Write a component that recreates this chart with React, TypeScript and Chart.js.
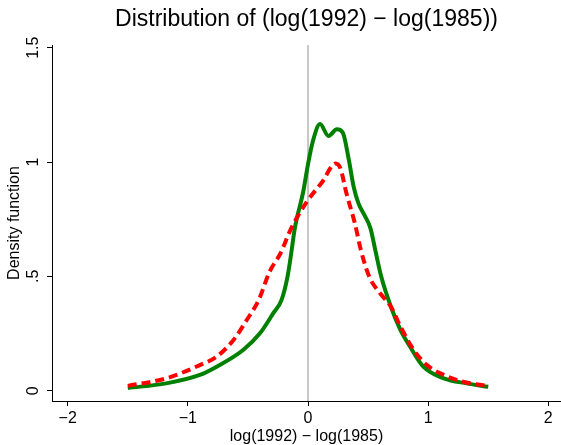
import React, { useEffect, useRef } from 'react';
import { Chart, registerables } from 'chart.js';

Chart.register(...registerables);

// Green solid density curve
const greenX = [-1.5, -1.18, -0.9, -0.76, -0.54, -0.4, -0.29, -0.22, -0.17, -0.14, -0.11, -0.04, 0.0, 0.04, 0.1, 0.17, 0.24, 0.29, 0.34, 0.38, 0.42, 0.47, 0.52, 0.56, 0.61, 0.69, 0.77, 0.85, 0.96, 1.13, 1.32, 1.5];
const greenY = [0.012, 0.032, 0.069, 0.105, 0.178, 0.251, 0.338, 0.397, 0.5, 0.6, 0.71, 0.87, 0.99, 1.09, 1.166, 1.114, 1.143, 1.128, 1.009, 0.892, 0.819, 0.768, 0.71, 0.615, 0.498, 0.367, 0.265, 0.192, 0.105, 0.054, 0.032, 0.017];

// Red dashed density curve
const redX = [-1.5, -1.18, -0.9, -0.76, -0.62, -0.51, -0.41, -0.32, -0.23, -0.14, -0.01, 0.12, 0.23, 0.27, 0.32, 0.39, 0.44, 0.51, 0.6, 0.69, 0.77, 0.88, 0.99, 1.13, 1.29, 1.5];
const redY = [0.021, 0.054, 0.112, 0.149, 0.222, 0.309, 0.397, 0.52, 0.6, 0.71, 0.826, 0.914, 0.994, 0.972, 0.863, 0.732, 0.615, 0.498, 0.426, 0.367, 0.28, 0.178, 0.112, 0.069, 0.039, 0.02];

const xTicks = [-2, -1, 0, 1, 2];
const xTickLabels = ['\u22122', '\u22121', '0', '1', '2'];
const yTicks = [0, 0.5, 1, 1.5];
const yTickLabels = ['0', '.5', '1', '1.5'];
const refLineX = 0;

const titleText = 'Distribution of (log(1992) \u2212 log(1985))';
const xTitle = 'log(1992) \u2212 log(1985)';
const yTitle = 'Density function';

const FONT = 'Liberation Sans, Arial, Helvetica, sans-serif';

export default function App() {
  const ref = useRef<HTMLCanvasElement | null>(null);

  useEffect(() => {
    if (!ref.current) return;
    const refLine = {
      id: 'refLine',
      beforeDatasetsDraw(chart: any) {
        const { ctx, chartArea, scales } = chart;
        const px = scales.x.getPixelForValue(refLineX);
        ctx.save();
        ctx.strokeStyle = '#b4b4b4';
        ctx.lineWidth = 1.5;
        ctx.beginPath();
        ctx.moveTo(px, chartArea.top);
        ctx.lineTo(px, chartArea.bottom);
        ctx.stroke();
        ctx.restore();
      },
    };

    const chart = new Chart(ref.current, {
      type: 'line',
      data: {
        datasets: [
          {
            label: 'red',
            data: redX.map((x, i) => ({ x, y: redY[i] })),
            borderColor: '#ff0000',
            borderWidth: 4,
            borderDash: [9, 5],
            pointRadius: 0,
            fill: false,
            cubicInterpolationMode: 'monotone',
            order: 0,
          },
          {
            label: 'green',
            data: greenX.map((x, i) => ({ x, y: greenY[i] })),
            borderColor: '#008000',
            borderWidth: 4,
            pointRadius: 0,
            fill: false,
            cubicInterpolationMode: 'monotone',
            order: 1,
          },
        ],
      },
      options: {
        animation: false,
        responsive: false,
        devicePixelRatio: 1,
        layout: { padding: 0 },
        plugins: {
          legend: { display: false },
          tooltip: { enabled: false },
          title: {
            display: true,
            text: titleText,
            fullSize: false,
            color: '#000',
            font: { family: FONT, size: 23, weight: 'normal', lineHeight: 1.2 },
            padding: { top: 6.2, bottom: 11.2 },
          },
        },
        scales: {
          x: {
            type: 'linear',
            min: -2.1307,
            max: 2.1057,
            afterBuildTicks: (s: any) => {
              s.ticks = xTicks.map((v) => ({ value: v }));
            },
            afterFit: (s: any) => {
              s.height = 44;
            },
            ticks: {
              color: '#000',
              font: { family: FONT, size: 16 },
              padding: 3,
              maxRotation: 0,
              autoSkip: false,
              callback: (v: any) => {
                const i = xTicks.indexOf(Number(v));
                return i >= 0 ? xTickLabels[i] : '';
              },
            },
            grid: {
              display: true,
              drawOnChartArea: false,
              drawTicks: true,
              tickLength: 5,
              color: '#000',
              lineWidth: 1,
            },
            border: { display: true, color: '#000', width: 1 },
            title: {
              display: true,
              text: xTitle,
              color: '#000',
              font: { family: FONT, size: 16, lineHeight: 1 },
              padding: { top: 0, bottom: 0 },
            },
          },
          y: {
            type: 'linear',
            min: -0.04504,
            max: 1.5118,
            afterBuildTicks: (s: any) => {
              s.ticks = yTicks.map((v) => ({ value: v }));
            },
            afterFit: (s: any) => {
              s.width = 52;
            },
            ticks: {
              color: '#000',
              font: { family: FONT, size: 16 },
              padding: 2,
              minRotation: 90,
              maxRotation: 90,
              crossAlign: 'center',
              autoSkip: false,
              callback: (v: any) => {
                const i = yTicks.indexOf(Number(v));
                return i >= 0 ? yTickLabels[i] : '';
              },
            },
            grid: {
              display: true,
              drawOnChartArea: false,
              drawTicks: true,
              tickLength: 5,
              color: '#000',
              lineWidth: 1,
            },
            border: { display: true, color: '#000', width: 1 },
            title: {
              display: true,
              text: yTitle,
              color: '#000',
              font: { family: FONT, size: 16, lineHeight: 1.2 },
              padding: { top: 5, bottom: 0 },
            },
          },
        },
      },
      plugins: [refLine],
    } as any);

    return () => chart.destroy();
  }, []);

  return (
    <div style={{ position: 'absolute', left: 0, top: 0, width: 561, height: 445, background: '#fff' }}>
      <canvas ref={ref} width={561} height={445} style={{ display: 'block', width: 561, height: 445 }} />
    </div>
  );
}
